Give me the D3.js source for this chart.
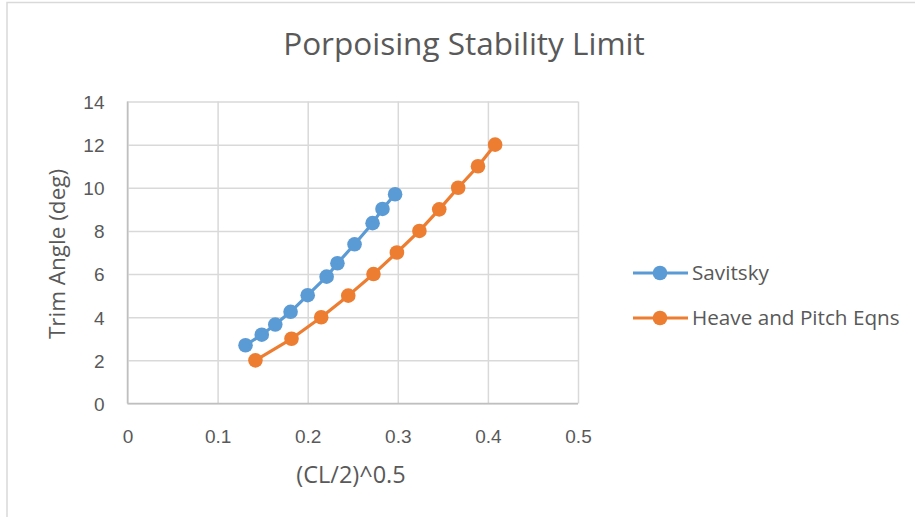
<!DOCTYPE html>
<html><head><meta charset="utf-8">
<script src="https://cdn.jsdelivr.net/npm/d3@7"></script>
<style>body{margin:0;background:#fff;}svg{display:block;font-family:"Open Sans",sans-serif;}</style>
</head><body><svg id="c" width="915" height="517"></svg>
<script>
const savitskyX = [0.131,0.149,0.164,0.181,0.200,0.221,0.233,0.252,0.272,0.283,0.297];
const savitskyY = [2.70,3.19,3.66,4.25,5.02,5.88,6.50,7.38,8.36,9.02,9.70];
const heaveX = [0.142,0.182,0.215,0.245,0.273,0.299,0.324,0.346,0.367,0.389,0.408];
const heaveY = [2,3,4,5,6,7,8,9,10,11,12];
const xTicks = [0,0.1,0.2,0.3,0.4,0.5];
const yTicks = [0,2,4,6,8,10,12,14];
const seriesNames = ["Savitsky","Heave and Pitch Eqns"];
const colors = ["#5b9bd5","#ed7d31"];

const svg = d3.select("#c");
svg.append("rect").attr("x",7).attr("y",2.5).attr("width",920).attr("height",530)
  .attr("fill","#fff").attr("stroke","#d9d9d9").attr("stroke-width",1.5);

const x = d3.scaleLinear().domain([0,0.5]).range([127.5,578]);
const y = d3.scaleLinear().domain([0,14]).range([403.5,101.5]);
const txt = "#595959";

// grid + ticks
const gx = svg.append("g").attr("transform",`translate(0,${y(0)})`)
  .call(d3.axisBottom(x).tickValues(xTicks).tickSize(-(y(0)-y(14))).tickFormat(d3.format("")));
gx.select(".domain").remove();
gx.selectAll("line").attr("stroke","#d9d9d9").attr("stroke-width",1.5);
gx.selectAll("text").attr("fill",txt).attr("font-size",19).attr("y",39).attr("dy",0);

const gy = svg.append("g").attr("transform",`translate(${x(0)},0)`)
  .call(d3.axisLeft(y).tickValues(yTicks).tickSize(-(x(0.5)-x(0))).tickFormat(d3.format("")));
gy.select(".domain").remove();
gy.selectAll("line").attr("stroke","#d9d9d9").attr("stroke-width",1.5);
gy.selectAll("text").attr("fill",txt).attr("font-size",19).attr("x",-23).attr("dy","0.36em");

// axis lines
svg.append("line").attr("x1",x(0)).attr("x2",x(0)).attr("y1",y(0)).attr("y2",y(14)).attr("stroke","#bfbfbf").attr("stroke-width",1.5);
svg.append("line").attr("x1",x(0)).attr("x2",x(0.5)).attr("y1",y(0)).attr("y2",y(0)).attr("stroke","#bfbfbf").attr("stroke-width",1.5);

const series = [d3.zip(savitskyX,savitskyY), d3.zip(heaveX,heaveY)];
const line = d3.line().x(d=>x(d[0])).y(d=>y(d[1]));
series.forEach((s,i)=>{
  svg.append("path").datum(s).attr("d",line).attr("fill","none").attr("stroke",colors[i]).attr("stroke-width",3.2).attr("stroke-linejoin","round");
  svg.append("g").selectAll("circle").data(s).join("circle")
    .attr("cx",d=>x(d[0])).attr("cy",d=>y(d[1])).attr("r",7.3).attr("fill",colors[i]);
});

// titles
svg.append("text").attr("x",464).attr("y",55).attr("text-anchor","middle").attr("fill",txt)
  .attr("font-size",31.5).text("Porpoising Stability Limit");
svg.append("text").attr("x",351).attr("y",483).attr("text-anchor","middle").attr("fill",txt)
  .attr("font-size",23.5).text("(CL/2)^0.5");
svg.append("text").attr("transform","translate(65,254) rotate(-90)").attr("text-anchor","middle").attr("fill",txt)
  .attr("font-size",22.5).text("Trim Angle (deg)");

// legend
seriesNames.forEach((n,i)=>{
  const ly = 273 + i*45;
  svg.append("line").attr("x1",633).attr("x2",688).attr("y1",ly).attr("y2",ly).attr("stroke",colors[i]).attr("stroke-width",3.2);
  svg.append("circle").attr("cx",660).attr("cy",ly).attr("r",7.3).attr("fill",colors[i]);
  svg.append("text").attr("x",692).attr("y",ly+7).attr("fill",txt).attr("font-size",20.7).text(n);
});
</script></body></html>
